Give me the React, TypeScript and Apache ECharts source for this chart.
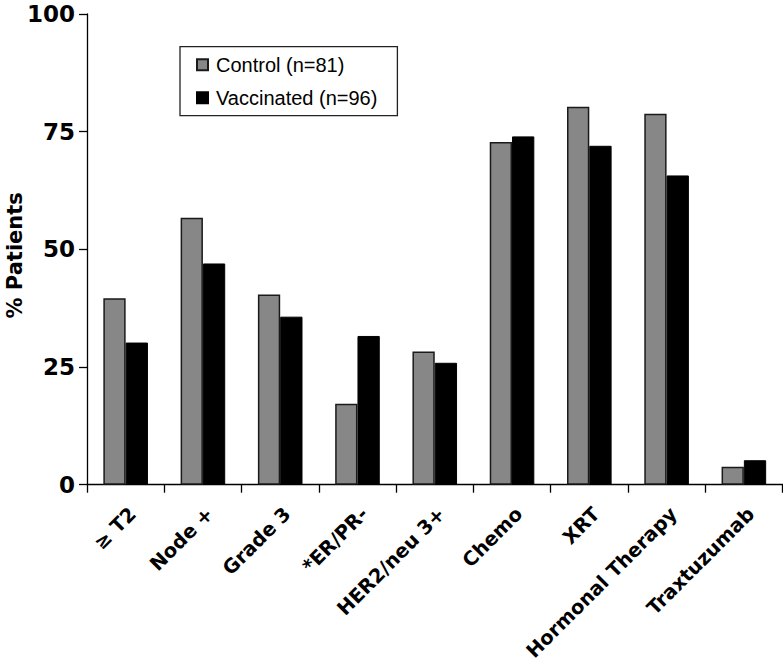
import React, { useEffect, useRef } from "react";
import * as echarts from "echarts";

const categories = [
  "≥ T2",
  "Node +",
  "Grade 3",
  "*ER/PR-",
  "HER2/neu 3+",
  "Chemo",
  "XRT",
  "Hormonal Therapy",
  "Traxtuzumab",
];
const controlValues = [39.6, 56.7, 40.4, 17.2, 28.3, 72.8, 80.3, 78.8, 3.8];
const vaccinatedValues = [30.2, 47.0, 35.7, 31.6, 25.9, 74.0, 72.0, 65.7, 5.2];
const seriesNames = ["Control (n=81)", "Vaccinated (n=96)"];
const yTicks = { min: 0, max: 100, interval: 25 };

export default function App() {
  const ref = useRef<HTMLDivElement>(null);
  useEffect(() => {
    document.body.style.margin = "0";
    if (!ref.current) return;
    const chart = echarts.init(ref.current, null, { renderer: "svg" });
    const axisFont = "DejaVu Sans";
    chart.setOption({
      animation: false,
      backgroundColor: "#ffffff",
      grid: {
        left: 87,
        right: 0.5,
        top: 14,
        bottom: 179.3,
        containLabel: false,
        outerBoundsMode: "none",
      },
      legend: {
        orient: "vertical",
        left: 180,
        top: 46.7,
        padding: [8, 20, 8, 16],
        itemGap: 13,
        itemWidth: 11,
        itemHeight: 11,
        icon: "rect",
        borderColor: "#222",
        borderWidth: 1.3,
        textStyle: {
          fontFamily: "Liberation Sans, Arial, sans-serif",
          fontSize: 20,
          color: "#000",
          padding: [0, 0, 0, 3],
        },
        data: seriesNames,
      },
      xAxis: {
        type: "category",
        data: categories,
        axisLine: { lineStyle: { color: "#000", width: 1.3 } },
        axisTick: { show: true, length: 8, lineStyle: { color: "#000", width: 1.3 } },
        axisLabel: {
          interval: 0,
          rotate: 45,
          margin: 19,
          align: "right",
          verticalAlign: "top",
          fontFamily: axisFont,
          fontWeight: "bold",
          fontSize: 19.5,
          color: "#000",
        },
        splitLine: { show: false },
      },
      yAxis: {
        type: "value",
        min: yTicks.min,
        max: yTicks.max,
        interval: yTicks.interval,
        name: "% Patients",
        nameLocation: "middle",
        nameGap: 62,
        nameMoveOverlap: false,
        nameTextStyle: {
          fontFamily: axisFont,
          fontWeight: "bold",
          fontSize: 21,
          color: "#000",
          padding: [0, 12, 0, 0],
        },
        axisLine: { show: true, lineStyle: { color: "#000", width: 1.3 } },
        axisTick: { show: true, length: 8, lineStyle: { color: "#000", width: 1.3 } },
        axisLabel: {
          margin: 12,
          fontFamily: axisFont,
          fontWeight: "bold",
          fontSize: 23,
          color: "#000",
        },
        splitLine: { show: false },
      },
      series: [
        {
          name: seriesNames[0],
          type: "bar",
          data: controlValues,
          barWidth: 22.3,
          barGap: "0%",
          itemStyle: { color: "#878787", borderColor: "#1a1a1a", borderWidth: 1.5 },
        },
        {
          name: seriesNames[1],
          type: "bar",
          data: vaccinatedValues,
          barWidth: 22.3,
          barGap: "0%",
          itemStyle: { color: "#000000", borderColor: "#000", borderWidth: 1 },
        },
      ],
    });
    return () => chart.dispose();
  }, []);
  return <div ref={ref} style={{ width: 783, height: 664 }} />;
}
